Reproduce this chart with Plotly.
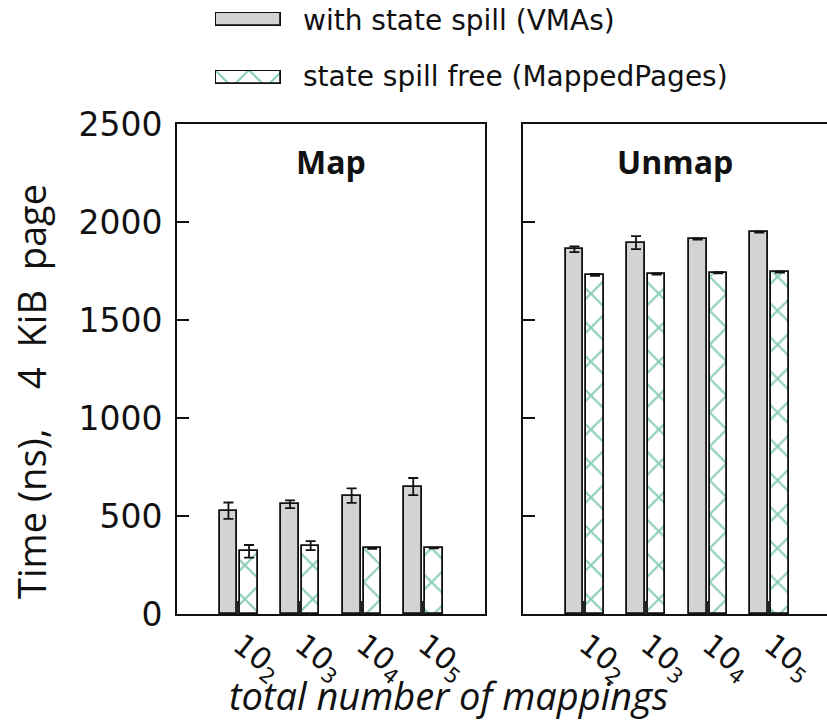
import plotly.graph_objects as go

# ---- data -------------------------------------------------------------
positions = [1, 2, 3, 4]
tick_labels = ["10<sub>2</sub>", "10<sub>3</sub>", "10<sub>4</sub>", "10<sub>5</sub>"]

map_vma = [527, 560, 604, 650]
map_vma_err = [42, 20, 37, 44]
map_mapped = [320, 349, 335, 337]
map_mapped_err = [32, 23, 3, 2]

unmap_vma = [1861, 1895, 1913, 1949]
unmap_vma_err = [15, 33, 3, 3]
unmap_mapped = [1730, 1735, 1741, 1745]
unmap_mapped_err = [5, 3, 3, 3]

baseline_ns = [68, 68, 68, 68]

y_ticks = [0, 500, 1000, 1500, 2000, 2500]

# ---- styling ----------------------------------------------------------
W, H = 827, 723
GRAY = "#d3d3d3"
GREEN = "#169c6f"
TICK_FONT = dict(family="DejaVu Sans", size=33, color="#111")
XTICK_FONT = dict(family="DejaVu Sans", size=30, color="#111")
LEG_FONT = dict(family="DejaVu Sans", size=28, color="#111")
HATCH = dict(shape="x", fgcolor=GREEN, bgcolor="white", size=24, solidity=0.17)


def px_x(p):
    return p / W


def px_y(p):
    return 1 - p / H


fig = go.Figure()


def add_panel(vma, vma_err, mapped, mapped_err, xa, ya):
    fig.add_trace(go.Bar(
        x=positions, y=vma, offset=-0.31, width=0.29,
        marker=dict(color=GRAY, line=dict(color="#111", width=1.8)),
        error_y=dict(type="data", array=vma_err, color="#111", thickness=1.8, width=5),
        xaxis=xa, yaxis=ya, showlegend=False,
    ))
    fig.add_trace(go.Bar(
        x=positions, y=mapped, offset=0.03, width=0.28,
        marker=dict(color="white", line=dict(color="#111", width=1.8), pattern=HATCH),
        error_y=dict(type="data", array=mapped_err, color="#111", thickness=1.8, width=5),
        xaxis=xa, yaxis=ya, showlegend=False,
    ))
    fig.add_trace(go.Bar(
        x=positions, y=baseline_ns, offset=-0.035, width=0.065,
        marker=dict(color="#222", line=dict(width=0)),
        xaxis=xa, yaxis=ya, showlegend=False,
    ))


add_panel(map_vma, map_vma_err, map_mapped, map_mapped_err, "x", "y")
add_panel(unmap_vma, unmap_vma_err, unmap_mapped, unmap_mapped_err, "x2", "y2")

# legend keys drawn as single bars on tiny hidden axes
fig.add_trace(go.Bar(
    x=[0], y=[1], width=[1],
    marker=dict(color=GRAY, line=dict(color="#111", width=1.8)),
    xaxis="x3", yaxis="y3", showlegend=False, hoverinfo="skip",
))
fig.add_trace(go.Bar(
    x=[0], y=[1], width=[1],
    marker=dict(color="white", line=dict(color="#111", width=1.8), pattern=HATCH),
    xaxis="x4", yaxis="y4", showlegend=False, hoverinfo="skip",
))

plot_top, plot_bot = 124, 614
ydom = [px_y(plot_bot), px_y(plot_top)]

xaxis_common = dict(
    range=[0, 5], tickmode="array", tickvals=positions, ticktext=tick_labels,
    tickangle=38, ticks="", showline=True, linecolor="#111", linewidth=2,
    mirror=True, showgrid=False, zeroline=False, tickfont=XTICK_FONT,
    automargin=False, ticklabelshift=2, ticklabeloverflow="allow",
)
yaxis_common = dict(
    range=[0, 2500], tickmode="array", tickvals=y_ticks, ticks="inside",
    ticklen=12, tickwidth=2, tickcolor="#111", showline=True, linecolor="#111",
    linewidth=2, showgrid=False, zeroline=False, tickfont=TICK_FONT,
    automargin=False,
)

hidden = dict(visible=False, fixedrange=True, automargin=False)

fig.update_layout(
    width=W, height=H,
    margin=dict(l=0, r=0, t=0, b=0, autoexpand=False),
    paper_bgcolor="white", plot_bgcolor="white",
    barmode="overlay", bargap=0,
    xaxis=dict(domain=[px_x(177), px_x(485)], anchor="y", **xaxis_common),
    yaxis=dict(domain=ydom, anchor="x", mirror=True, ticklabelstandoff=6, **yaxis_common),
    xaxis2=dict(domain=[px_x(523), 1.0], anchor="y2",
                **{**xaxis_common, "range": [0, 304 / 61.6]}),
    yaxis2=dict(domain=ydom, anchor="x2", showticklabels=False, **yaxis_common),
    xaxis3=dict(domain=[px_x(215), px_x(282)], anchor="y3", range=[-0.52, 0.52], **hidden),
    yaxis3=dict(domain=[px_y(27), px_y(12)], anchor="x3", range=[-0.06, 1.06], **hidden),
    xaxis4=dict(domain=[px_x(215), px_x(282)], anchor="y4", range=[-0.52, 0.52], **hidden),
    yaxis4=dict(domain=[px_y(85), px_y(70)], anchor="x4", range=[-0.06, 1.06], **hidden),
    showlegend=False,
)

ann = [
    dict(text="with state spill (VMAs)", x=px_x(301), y=px_y(20),
         xanchor="left", yanchor="middle", font=LEG_FONT),
    dict(text="state spill free (MappedPages)", x=px_x(301), y=px_y(77),
         xanchor="left", yanchor="middle", font=LEG_FONT),
    dict(text="<b>Map</b>", x=px_x(331), y=px_y(161), xanchor="center", yanchor="middle",
         font=dict(family="Open Sans", size=32, color="#111")),
    dict(text="<b>Unmap</b>", x=px_x(675), y=px_y(161), xanchor="center", yanchor="middle",
         font=dict(family="Open Sans", size=32, color="#111")),
    dict(text="Time (ns),&nbsp;&nbsp;&nbsp; 4&nbsp; KiB&nbsp; page",
         x=px_x(31), y=px_y(392), textangle=-90,
         xanchor="center", yanchor="middle",
         font=dict(family="Open Sans", size=38, color="#111")),
    dict(text="<i>total number of mappings</i>", x=px_x(448), y=0,
         xanchor="center", yanchor="bottom",
         font=dict(family="Open Sans", size=38, color="#111")),
]
for a in ann:
    fig.add_annotation(xref="paper", yref="paper", showarrow=False, **a)

fig.write_html("out.html")
